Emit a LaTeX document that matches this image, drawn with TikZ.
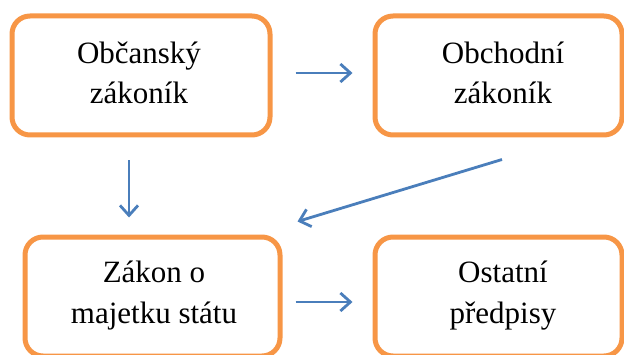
\documentclass[tikz,border=0pt]{standalone}
\usepackage{fontspec}
\setmainfont{Liberation Serif}
\usetikzlibrary{arrows.meta}
\definecolor{boxorange}{HTML}{F79646}
\definecolor{arrowblue}{HTML}{4A7EBB}
\tikzset{
  lawbox/.style={draw=boxorange, line width=5pt, rounded corners=18pt, fill=white},
  lawtext/.style={align=center, font=\fontsize{31}{41}\selectfont, inner sep=0pt, anchor=base},
  flow/.style={draw=arrowblue, line width=2.8pt, -{Straight Barb[length=10pt,width=18pt]}}
}
\begin{document}
\begin{tikzpicture}[x=1pt,y=1pt]
\useasboundingbox (0,0) rectangle (624,354);
\clip (0,0) rectangle (624,354);
% boxes
\node[lawbox, minimum width=258pt, minimum height=119pt] (box1) at (141,278.5) {};
\node[lawbox, minimum width=247pt, minimum height=119pt] (box2) at (498.5,278.5) {};
\node[lawbox, minimum width=255pt, minimum height=119pt] (box3) at (152.5,57.5) {};
\node[lawbox, minimum width=247pt, minimum height=119pt] (box4) at (498.5,57.5) {};
% texts (anchor = baseline of last line)
\node[lawtext] (t1) at (139,250) {Občanský\\zákoník};
\node[lawtext] (t2) at (503,250) {Obchodní\\zákoník};
\node[lawtext] (t3) at (154,31) {Zákon o\\majetku státu};
\node[lawtext] (t4) at (503,31) {Ostatní\\předpisy};
% connectors
\draw[flow, shorten <=23pt, shorten >=20pt] ([yshift=2.5pt]box1.east) -- ([yshift=2.5pt]box2.west);
\draw[flow, shorten <=13pt, shorten >=20pt] ([yshift=-5.5pt]box3.east) -- ([yshift=-5.5pt]box4.west);
\draw[flow, shorten <=23pt, shorten >=17pt] ([xshift=-12pt]box1.south) -- ([xshift=-12pt]box1.south |- box3.north);
\draw[flow] ([xshift=3.5pt,yshift=-22pt]box2.south) -- ([xshift=15pt,yshift=13pt]box3.north east);
\end{tikzpicture}
\end{document}
